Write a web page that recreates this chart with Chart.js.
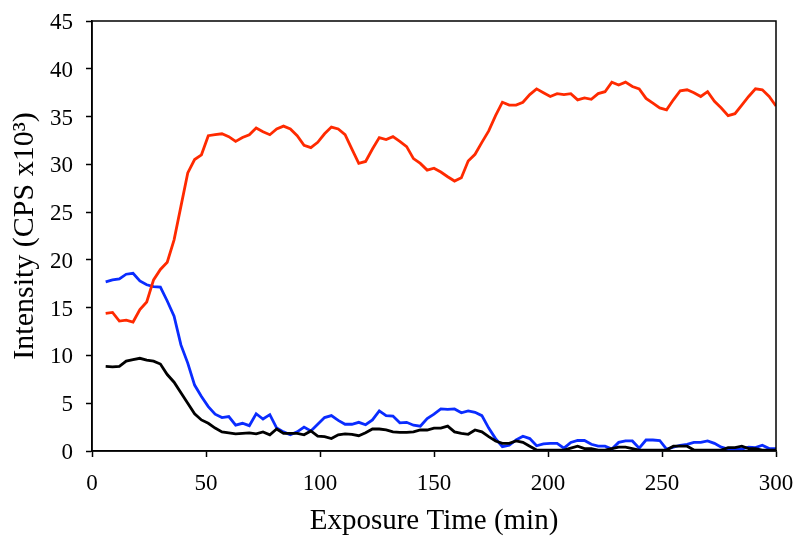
<!DOCTYPE html>
<html>
<head>
<meta charset="utf-8">
<script src="https://cdn.jsdelivr.net/npm/chart.js@4.4.0/dist/chart.umd.min.js"></script>
<style>
    html, body { margin: 0; padding: 0; background: #fff; }
</style>
</head>
<body>
<canvas id="myChart" width="796" height="540"></canvas>
<script>
// exposure time (min)
var times = [6, 9, 12, 15, 18, 21, 24, 27, 30, 33,
    36, 39, 42, 45, 48, 51, 54, 57, 60, 63,
    66, 69, 72, 75, 78, 81, 84, 87, 90, 93,
    96, 99, 102, 105, 108, 111, 114, 117, 120, 123,
    126, 129, 132, 135, 138, 141, 144, 147, 150, 153,
    156, 159, 162, 165, 168, 171, 174, 177, 180, 183,
    186, 189, 192, 195, 198, 201, 204, 207, 210, 213,
    216, 219, 222, 225, 228, 231, 234, 237, 240, 243,
    246, 249, 252, 255, 258, 261, 264, 267, 270, 273,
    276, 279, 282, 285, 288, 291, 294, 297, 300]

// intensity, CPS x10^3
var redSeries = [14.4, 14.5, 13.6, 13.7, 13.5, 14.8, 15.6, 17.9, 19.0, 19.75,
    22.1, 25.6, 29.1, 30.5, 31.0, 33.0, 33.1, 33.2, 32.9, 32.4,
    32.8, 33.1, 33.8, 33.4, 33.1, 33.7, 34.0, 33.7, 33.0, 32.0,
    31.75, 32.3, 33.2, 33.9, 33.7, 33.1, 31.6, 30.1, 30.3, 31.6,
    32.8, 32.6, 32.9, 32.4, 31.85, 30.6, 30.1, 29.4, 29.6, 29.2,
    28.7, 28.25, 28.6, 30.35, 31.05, 32.3, 33.5, 35.1, 36.5, 36.2,
    36.2, 36.5, 37.3, 37.9, 37.5, 37.1, 37.4, 37.3, 37.4, 36.75,
    36.95, 36.8, 37.4, 37.6, 38.6, 38.3, 38.6, 38.15, 37.9, 36.9,
    36.4, 35.9, 35.7, 36.75, 37.7, 37.8, 37.5, 37.1, 37.6, 36.6,
    35.9, 35.1, 35.3, 36.2, 37.1, 37.9, 37.8, 37.1, 36.1]

var blueSeries = [17.7, 17.9, 18.0, 18.5, 18.6, 17.8, 17.4, 17.2, 17.15, 15.7,
    14.1, 11.1, 9.2, 6.9, 5.7, 4.65, 3.85, 3.5, 3.6, 2.7,
    2.9, 2.65, 3.9, 3.35, 3.8, 2.4, 2.0, 1.7, 2.0, 2.5,
    2.1, 2.8, 3.5, 3.7, 3.2, 2.8, 2.8, 3.0, 2.75, 3.25,
    4.2, 3.7, 3.65, 2.95, 3.0, 2.7, 2.6, 3.4, 3.85, 4.4,
    4.35, 4.4, 4.0, 4.2, 4.05, 3.7, 2.4, 1.3, 0.45, 0.6,
    1.15, 1.55, 1.3, 0.55, 0.75, 0.8, 0.8, 0.3, 0.9, 1.1,
    1.1, 0.7, 0.5, 0.5, 0.2, 0.9, 1.05, 1.05, 0.3, 1.15,
    1.15, 1.1, 0.2, 0.4, 0.6, 0.7, 0.9, 0.9, 1.05, 0.8,
    0.4, 0.2, 0.2, 0.2, 0.4, 0.35, 0.6, 0.25, 0.25]

var blackSeries = [8.85, 8.8, 8.85, 9.4, 9.55, 9.7, 9.5, 9.4, 9.1, 8.0,
    7.2, 6.1, 5.0, 3.9, 3.25, 2.9, 2.4, 2.0, 1.9, 1.8,
    1.85, 1.9, 1.8, 2.0, 1.7, 2.3, 1.85, 1.85, 1.85, 1.7,
    2.1, 1.55, 1.5, 1.3, 1.7, 1.8, 1.75, 1.6, 1.9, 2.3,
    2.3, 2.2, 2.0, 1.95, 1.95, 2.0, 2.2, 2.2, 2.4, 2.4,
    2.6, 2.0, 1.85, 1.75, 2.2, 2.0, 1.5, 1.05, 0.8, 0.8,
    1.05, 0.9, 0.5, 0.1, 0.1, 0.1, 0.1, 0.1, 0.3, 0.5,
    0.25, 0.25, 0.1, 0.1, 0.25, 0.4, 0.4, 0.25, 0.1, 0.1,
    0.1, 0.1, 0.1, 0.5, 0.5, 0.5, 0.1, 0.1, 0.1, 0.1,
    0.1, 0.35, 0.35, 0.5, 0.25, 0.25, 0.1, 0.1, 0.1]

var xTicks = [0, 50, 100, 150, 200, 250, 300]
var yTicks = [0, 5, 10, 15, 20, 25, 30, 35, 40, 45]

function toPoints(values) {
    return values.map(function (v, i) { return { x: times[i], y: v } })
}

// closes the plot box (top and right sides)
var frameBox = {
    id: 'frameBox',
    afterDatasetsDraw: function (chart) {
        var a = chart.chartArea
        var c = chart.ctx
        c.save()
        c.strokeStyle = '#000'
        c.lineWidth = 1.5
        c.strokeRect(a.left, a.top, a.right - a.left, a.bottom - a.top)
        c.restore()
    }
}

var serif = 'Liberation Serif'
var ctx = document.getElementById('myChart').getContext('2d')
var chart = new Chart(ctx, {
    type: 'line',
    data: {
        datasets: [{
            label: 'red',
            data: toPoints(redSeries),
            borderColor: '#ff2a00',
            borderWidth: 2.8
        }, {
            label: 'black',
            data: toPoints(blackSeries),
            borderColor: '#000000',
            borderWidth: 2.8
        }, {
            label: 'blue',
            data: toPoints(blueSeries),
            borderColor: '#0a2cff',
            borderWidth: 2.8
        }]
    },
    options: {
        responsive: false,
        animation: false,
        devicePixelRatio: 1,
        elements: { point: { radius: 0 }, line: { tension: 0 } },
        layout: { padding: { top: 21, right: 20, left: 0, bottom: 0 } },
        plugins: { legend: { display: false }, tooltip: { enabled: false } },
        scales: {
            x: {
                type: 'linear',
                min: 0,
                max: 300,
                afterBuildTicks: function (scale) {
                    scale.ticks = xTicks.map(function (v) { return { value: v } })
                },
                afterFit: function (scale) {
                    scale.height = 89
                    scale.paddingLeft = 0
                    scale.paddingRight = 0
                },
                ticks: { color: '#000', font: { family: serif, size: 23 }, padding: 13, maxRotation: 0 },
                grid: { drawOnChartArea: false, color: '#000', tickLength: 6, tickWidth: 1.5 },
                border: { color: '#000', width: 1.5 },
                title: {
                    display: true,
                    text: 'Exposure Time (min)',
                    color: '#000',
                    font: { family: serif, size: 29 },
                    padding: { top: 0, bottom: 1 }
                }
            },
            y: {
                min: 0,
                max: 45,
                afterBuildTicks: function (scale) {
                    scale.ticks = yTicks.map(function (v) { return { value: v } })
                },
                afterFit: function (scale) {
                    scale.width = 92
                    scale.paddingTop = 0
                    scale.paddingBottom = 0
                },
                ticks: { color: '#000', font: { family: serif, size: 23 }, padding: 13, labelOffset: 2 },
                grid: { drawOnChartArea: false, color: '#000', tickLength: 6, tickWidth: 1.5 },
                border: { color: '#000', width: 1.5 },
                title: {
                    display: true,
                    text: 'Intensity (CPS x10³)',
                    color: '#000',
                    font: { family: serif, size: 30 },
                    padding: { top: 7, bottom: 0 }
                }
            }
        }
    },
    plugins: [frameBox]
})
</script>
</body>
</html>
